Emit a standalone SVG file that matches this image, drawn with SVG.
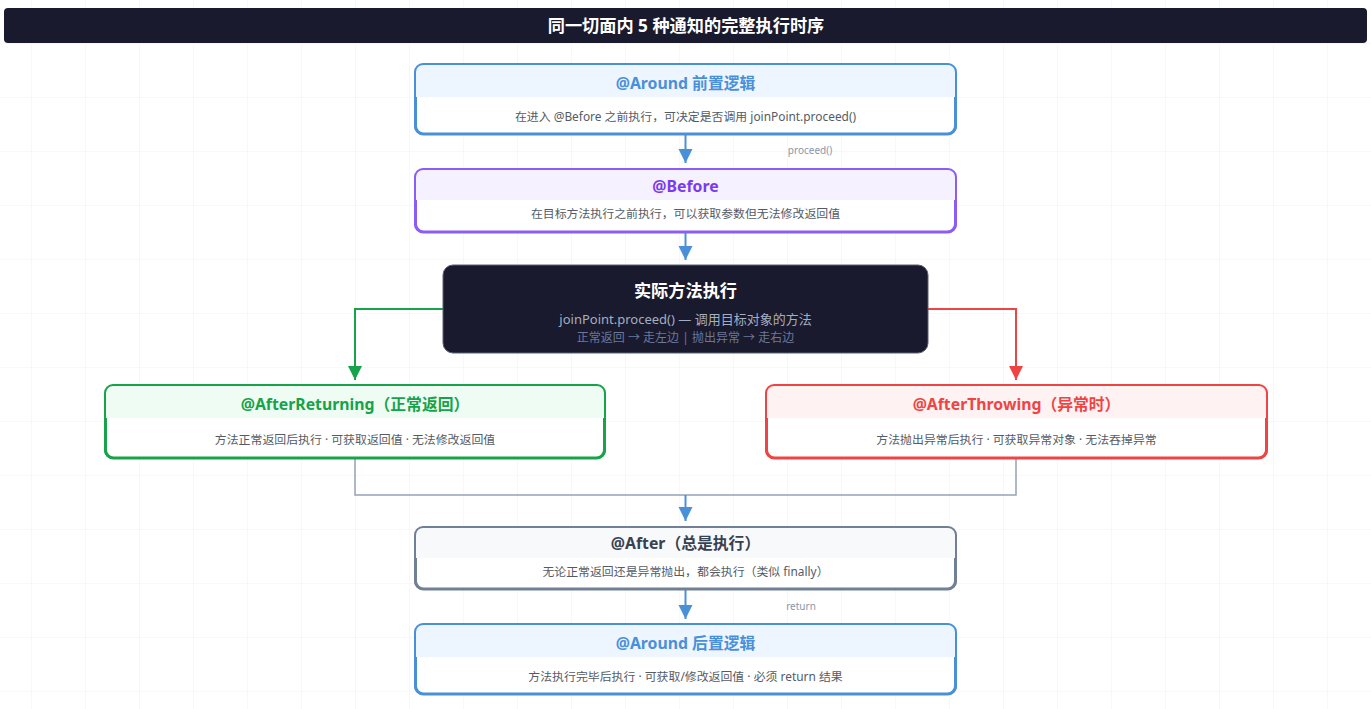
<svg xmlns="http://www.w3.org/2000/svg" width="1371" height="709" viewBox="0 0 1371 709">
<defs>
<pattern id="grid" x="31" y="43" width="54" height="54" patternUnits="userSpaceOnUse">
<path d="M0,0 H54 M0,0 V54" fill="none" stroke="#f0f1f5" stroke-width="1"/>
</pattern>
<marker id="ab" markerUnits="userSpaceOnUse" markerWidth="14" markerHeight="16" refX="14" refY="7" orient="auto"><path d="M0,0 L14,7 L0,14 z" fill="#4a90d9"/></marker>
<marker id="ag" markerUnits="userSpaceOnUse" markerWidth="14" markerHeight="16" refX="14" refY="7" orient="auto"><path d="M0,0 L14,7 L0,14 z" fill="#16a34a"/></marker>
<marker id="ar" markerUnits="userSpaceOnUse" markerWidth="14" markerHeight="16" refX="14" refY="7" orient="auto"><path d="M0,0 L14,7 L0,14 z" fill="#ef4444"/></marker>
</defs>
<style>
text{font-family:"Noto Sans","Noto Sans CJK SC",sans-serif;text-anchor:middle}
.t{font-size:15.8px;font-weight:bold}
.s{font-size:11.9px;fill:#555b66}
.lbl{font-size:10px;fill:#8a97ab}
.box{fill:none;stroke-width:2}
.body{fill:none;stroke-width:3}
</style>
<rect width="1371" height="709" fill="#ffffff"/>
<rect width="1371" height="709" fill="url(#grid)"/>
<g id="title">
<rect x="4" y="8" width="1363" height="35" rx="4" fill="#1a1a2e"/>
<text x="686" y="32" font-size="17.2" font-weight="bold" fill="#ffffff">同一切面内 5 种通知的完整执行时序</text>
</g>
<g id="connectors" fill="none" stroke-width="2">
<line x1="685.5" y1="135" x2="685.5" y2="163" stroke="#4a90d9" marker-end="url(#ab)"/>
<text class="lbl" x="810" y="154">proceed()</text>
<line x1="685.5" y1="233" x2="685.5" y2="260" stroke="#4a90d9" marker-end="url(#ab)"/>
<path d="M443,309 H355 V380" stroke="#16a34a" marker-end="url(#ag)"/>
<path d="M928,309 H1016 V380" stroke="#ef4444" marker-end="url(#ar)"/>
<path d="M355,459 V495 H1016 V459" stroke="#94a3b8" stroke-width="1.5"/>
<line x1="685.5" y1="495" x2="685.5" y2="521" stroke="#4a90d9" marker-end="url(#ab)"/>
<line x1="685.5" y1="590" x2="685.5" y2="619" stroke="#4a90d9" marker-end="url(#ab)"/>
<text class="lbl" x="801" y="610">return</text>
</g>
<g id="around-before">
<rect x="415" y="64" width="541" height="70" rx="8" fill="#ffffff"/>
<path d="M415,97 V72 A8,8 0 0 1 423,64 H948 A8,8 0 0 1 956,72 V97 Z" fill="#edf5fe"/>
<rect class="box" x="415" y="64" width="541" height="70" rx="8" stroke="#4a90d9"/>
<path class="body" d="M415.5,97 V126 A8,8 0 0 0 423.5,134 H947.5 A8,8 0 0 0 955.5,126 V97" stroke="#4a90d9"/>
<text class="t" x="685.5" y="89" fill="#4a90d9">@Around 前置逻辑</text>
<text class="s" x="685.5" y="121">在进入 @Before 之前执行，可决定是否调用 joinPoint.proceed()</text>
</g>
<g id="before">
<rect x="415" y="169" width="541" height="63" rx="8" fill="#ffffff"/>
<path d="M415,200 V177 A8,8 0 0 1 423,169 H948 A8,8 0 0 1 956,177 V200 Z" fill="#f5f1fe"/>
<rect class="box" x="415" y="169" width="541" height="63" rx="8" stroke="#8b5cf6"/>
<path class="body" d="M415.5,200 V224 A8,8 0 0 0 423.5,232 H947.5 A8,8 0 0 0 955.5,224 V200" stroke="#8b5cf6"/>
<text class="t" x="685.5" y="192" fill="#7c3aed">@Before</text>
<text class="s" x="685.5" y="218">在目标方法执行之前执行，可以获取参数但无法修改返回值</text>
</g>
<g id="actual">
<rect x="443" y="265" width="485" height="88" rx="10" fill="#1a1a2e" stroke="#5a6072" stroke-width="1"/>
<text x="685.5" y="297" font-size="17.2" font-weight="bold" fill="#ffffff">实际方法执行</text>
<text x="685.5" y="324" font-size="13" fill="#a3aec2">joinPoint.proceed() — 调用目标对象的方法</text>
<text x="685.5" y="342" font-size="12" fill="#6b7899">正常返回 → 走左边 | 抛出异常 → 走右边</text>
</g>
<g id="after-returning">
<rect x="105" y="385" width="500" height="73" rx="8" fill="#ffffff"/>
<path d="M105,418 V393 A8,8 0 0 1 113,385 H597 A8,8 0 0 1 605,393 V418 Z" fill="#effcf3"/>
<rect class="box" x="105" y="385" width="500" height="73" rx="8" stroke="#16a34a"/>
<path class="body" d="M105.5,418 V450 A8,8 0 0 0 113.5,458 H596.5 A8,8 0 0 0 604.5,450 V418" stroke="#16a34a"/>
<text class="t" x="355" y="410" fill="#16a34a">@AfterReturning（正常返回）</text>
<text class="s" x="355" y="444">方法正常返回后执行 · 可获取返回值 · 无法修改返回值</text>
</g>
<g id="after-throwing">
<rect x="766" y="385" width="501" height="73" rx="8" fill="#ffffff"/>
<path d="M766,418 V393 A8,8 0 0 1 774,385 H1259 A8,8 0 0 1 1267,393 V418 Z" fill="#fef2f2"/>
<rect class="box" x="766" y="385" width="501" height="73" rx="8" stroke="#ef4444"/>
<path class="body" d="M766.5,418 V450 A8,8 0 0 0 774.5,458 H1258.5 A8,8 0 0 0 1266.5,450 V418" stroke="#ef4444"/>
<text class="t" x="1016.5" y="410" fill="#ef4444">@AfterThrowing（异常时）</text>
<text class="s" x="1016.5" y="444">方法抛出异常后执行 · 可获取异常对象 · 无法吞掉异常</text>
</g>
<g id="after">
<rect x="415" y="527" width="541" height="62" rx="8" fill="#ffffff"/>
<path d="M415,558 V535 A8,8 0 0 1 423,527 H948 A8,8 0 0 1 956,535 V558 Z" fill="#f8f9fb"/>
<rect class="box" x="415" y="527" width="541" height="62" rx="8" stroke="#718096"/>
<path class="body" d="M415.5,558 V581 A8,8 0 0 0 423.5,589 H947.5 A8,8 0 0 0 955.5,581 V558" stroke="#718096"/>
<text class="t" x="685.5" y="549" fill="#374151">@After（总是执行）</text>
<text class="s" x="685.5" y="576">无论正常返回还是异常抛出，都会执行（类似 finally）</text>
</g>
<g id="around-after">
<rect x="415" y="624" width="541" height="70" rx="8" fill="#ffffff"/>
<path d="M415,657 V632 A8,8 0 0 1 423,624 H948 A8,8 0 0 1 956,632 V657 Z" fill="#edf5fe"/>
<rect class="box" x="415" y="624" width="541" height="70" rx="8" stroke="#4a90d9"/>
<path class="body" d="M415.5,657 V686 A8,8 0 0 0 423.5,694 H947.5 A8,8 0 0 0 955.5,686 V657" stroke="#4a90d9"/>
<text class="t" x="685.5" y="649" fill="#4a90d9">@Around 后置逻辑</text>
<text class="s" x="685.5" y="681">方法执行完毕后执行 · 可获取/修改返回值 · 必须 return 结果</text>
</g>
</svg>
